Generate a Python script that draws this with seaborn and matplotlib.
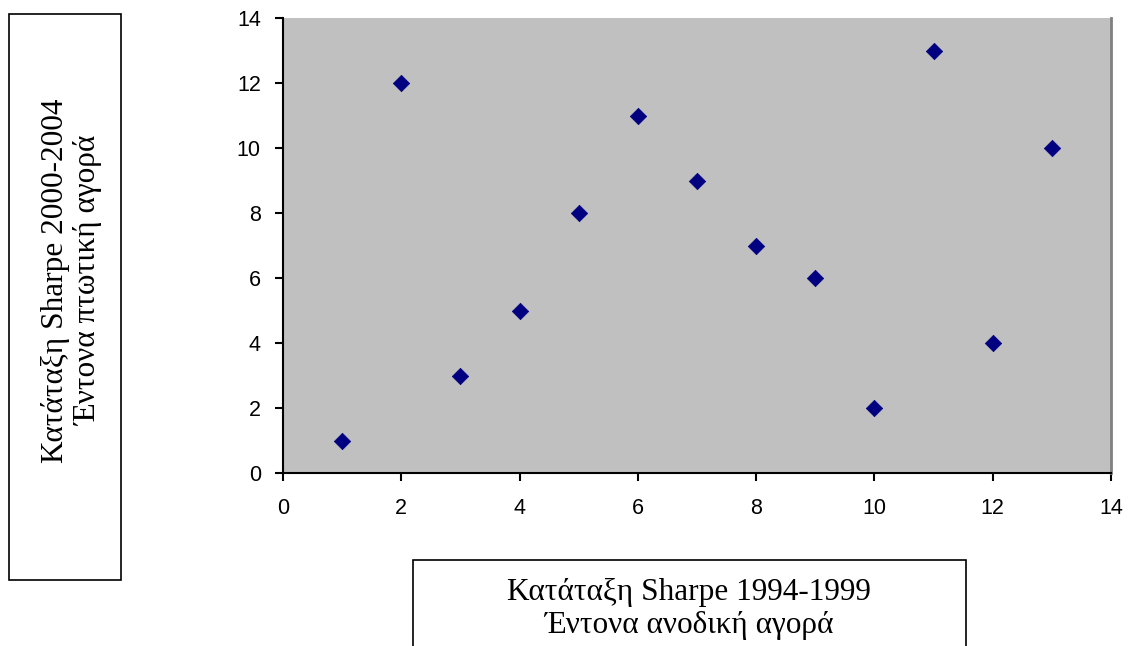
import matplotlib
matplotlib.use("Agg")
import matplotlib.pyplot as plt
import seaborn as sns
import pandas as pd
from matplotlib.patches import Rectangle

# Data
rank_1994_1999 = [1, 2, 3, 4, 5, 6, 7, 8, 9, 10, 11, 12, 13]
rank_2000_2004 = [1, 12, 3, 5, 8, 11, 9, 7, 6, 2, 13, 4, 10]
x_ticks = [0, 2, 4, 6, 8, 10, 12, 14]
y_ticks = [0, 2, 4, 6, 8, 10, 12, 14]
x_label = "Κατάταξη Sharpe 1994-1999\nΈντονα ανοδική αγορά"
y_label = "Κατάταξη Sharpe 2000-2004\nΈντονα πτωτική αγορά"

df = pd.DataFrame({"x": rank_1994_1999, "y": rank_2000_2004})

sns.set_style("white")
plt.rcParams['font.family'] = ['Liberation Sans', 'DejaVu Sans']
plt.rcParams['text.color'] = 'black'

W, H = 1133, 646
fig = plt.figure(figsize=(W / 100, H / 100), dpi=100)
ax = fig.add_axes([283 / W, 1 - 473 / H, (1111 - 283) / W, (473 - 18) / H])
ax.set_facecolor("#C0C0C0")

sns.scatterplot(data=df, x="x", y="y", ax=ax, marker="D", s=70,
                color="#000080", edgecolor="#000080", linewidth=0.5, zorder=3)

ax.set_xlim(0, 14)
ax.set_ylim(0, 14)
ax.set_xticks(x_ticks)
ax.set_yticks(y_ticks)
ax.set_xlabel("")
ax.set_ylabel("")
ax.tick_params(axis="both", direction="out", length=6, width=1.5, color="black",
               labelsize=15.5, labelcolor="black")
ax.tick_params(axis="x", pad=12)
ax.tick_params(axis="y", pad=10)
ax.tick_params(bottom=True, left=True)

for side in ["left", "bottom"]:
    ax.spines[side].set_color("black")
    ax.spines[side].set_linewidth(1.5)
ax.spines["top"].set_visible(False)
ax.spines["right"].set_color("#808080")
ax.spines["right"].set_linewidth(2)

serif = ['Liberation Serif', 'DejaVu Serif']

# Left label box
fig.patches.append(Rectangle((9 / W, 1 - 580 / H), (121 - 9) / W, (580 - 14) / H,
                             transform=fig.transFigure, fill=False,
                             edgecolor="black", linewidth=1.2))
fig.text(72 / W, 1 - 281 / H, y_label, rotation=90, ha="center", va="center",
         color="black", fontsize=22.5, family=serif, linespacing=1.17,
         multialignment="center")

# Bottom label box
fig.patches.append(Rectangle((413 / W, 1 - 700 / H), (966 - 413) / W, (700 - 560) / H,
                             transform=fig.transFigure, fill=False,
                             edgecolor="black", linewidth=1.2))
fig.text(689 / W, 1 - 609 / H, x_label, ha="center", va="center",
         color="black", fontsize=22.5, family=serif, linespacing=1.17,
         multialignment="center")

fig.savefig("out.png", dpi=100)
